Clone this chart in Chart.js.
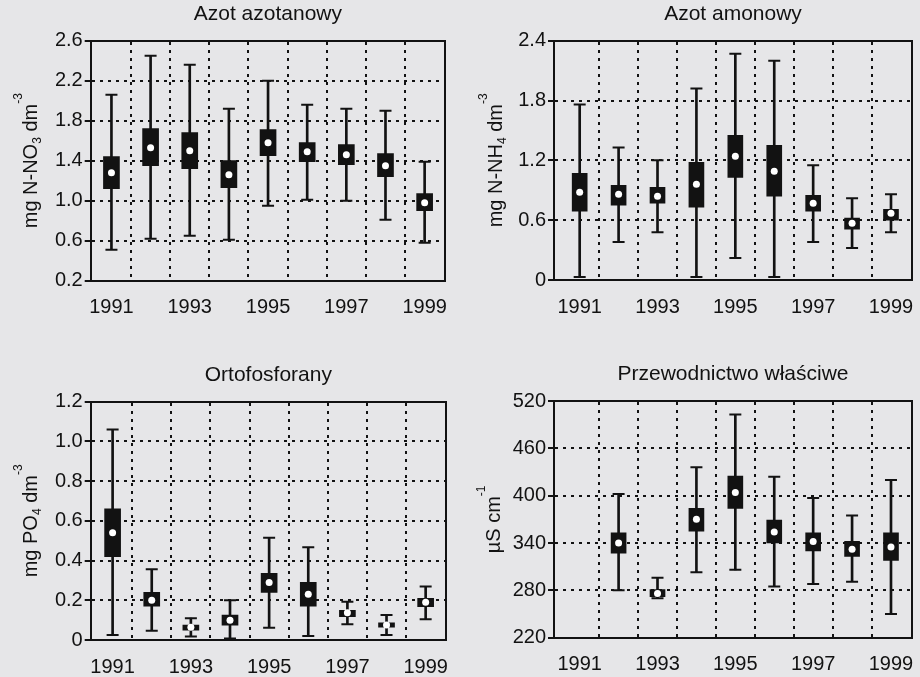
<!DOCTYPE html>
<html>
<head>
<meta charset="utf-8">
<title>Jakość wody 1991-1999</title>
<script src="https://cdn.jsdelivr.net/npm/chart.js@4.4.1/dist/chart.umd.min.js"></script>
<style>
  html, body { margin: 0; padding: 0; background: #e6e6e8; }
  body { width: 920px; height: 677px; position: relative; overflow: hidden; }
  .panel { position: absolute; }
  .panel canvas { display: block; }
</style>
</head>
<body>
<div class="panel" style="left:0;top:0"><canvas id="no3" width="460" height="320"></canvas></div>
<div class="panel" style="left:460px;top:0"><canvas id="nh4" width="460" height="320"></canvas></div>
<div class="panel" style="left:0;top:340px"><canvas id="po4" width="460" height="337"></canvas></div>
<div class="panel" style="left:460px;top:340px"><canvas id="cond" width="460" height="337"></canvas></div>
<script>
const years = [1991, 1992, 1993, 1994, 1995, 1996, 1997, 1998, 1999];
const yearLabels = [1991, 1993, 1995, 1997, 1999];

// Azot azotanowy, mg N-NO3 dm-3
const no3Ticks = [0.2, 0.6, 1.0, 1.4, 1.8, 2.2, 2.6];
const no3Min  = [0.51, 0.62, 0.65, 0.61, 0.95, 1.01, 1.00, 0.81, 0.58];
const no3Low  = [1.12, 1.35, 1.32, 1.13, 1.45, 1.39, 1.36, 1.24, 0.90];
const no3Mid  = [1.28, 1.53, 1.50, 1.26, 1.58, 1.49, 1.46, 1.35, 0.98];
const no3High = [1.44, 1.72, 1.68, 1.40, 1.71, 1.58, 1.56, 1.47, 1.07];
const no3Max  = [2.06, 2.45, 2.36, 1.92, 2.20, 1.96, 1.92, 1.90, 1.39];

// Azot amonowy, mg N-NH4 dm-3
const nh4Ticks = [0, 0.6, 1.2, 1.8, 2.4];
const nh4Min  = [0.03, 0.38, 0.48, 0.03, 0.22, 0.03, 0.38, 0.32, 0.48];
const nh4Low  = [0.69, 0.75, 0.77, 0.73, 1.03, 0.84, 0.69, 0.51, 0.60];
const nh4Mid  = [0.88, 0.86, 0.84, 0.96, 1.24, 1.09, 0.77, 0.57, 0.67];
const nh4High = [1.07, 0.95, 0.93, 1.18, 1.45, 1.35, 0.85, 0.62, 0.71];
const nh4Max  = [1.76, 1.33, 1.20, 1.92, 2.27, 2.20, 1.15, 0.82, 0.86];

// Ortofosforany, mg PO4 dm-3
const po4Ticks = [0, 0.2, 0.4, 0.6, 0.8, 1.0, 1.2];
const po4Min  = [0.025, 0.047, 0.017, 0.007, 0.062, 0.020, 0.079, 0.025, 0.104];
const po4Low  = [0.42, 0.17, 0.050, 0.075, 0.24, 0.17, 0.117, 0.064, 0.168];
const po4Mid  = [0.54, 0.20, 0.064, 0.100, 0.29, 0.23, 0.137, 0.075, 0.190];
const po4High = [0.66, 0.24, 0.075, 0.126, 0.336, 0.29, 0.150, 0.087, 0.210];
const po4Max  = [1.06, 0.356, 0.110, 0.200, 0.515, 0.467, 0.193, 0.126, 0.270];

// Przewodnictwo właściwe, µS cm-1 (brak pomiarów w 1991)
const condTicks = [220, 280, 340, 400, 460, 520];
const condMin  = [null, 280, 270, 303, 306, 285, 288, 291, 250];
const condLow  = [null, 327, 272, 355, 384, 340, 330, 323, 318];
const condMid  = [null, 340, 276, 370, 404, 354, 342, 332, 335];
const condHigh = [null, 353, 281, 384, 425, 369, 353, 342, 353];
const condMax  = [null, 402, 296, 436, 503, 424, 397, 375, 420];

const INK = '#121212';
const FONT = "'Liberation Sans', Arial, sans-serif";
const DOTS = [3, 5];

function points(vals) {
  return years.map((x, i) => ({ x: x, y: vals[i] })).filter(p => p.y !== null);
}
function ranges(lo, hi) {
  return years.map((x, i) => ({ x: x, y: lo[i] === null ? null : [lo[i], hi[i]] })).filter(p => p.y !== null);
}

// rotated y-axis title with sub/superscripts, drawn left of the plot
function axisTitle(x, parts) {
  return {
    id: 'axisTitle',
    afterDraw(chart) {
      const { ctx, chartArea } = chart;
      ctx.save();
      let total = 0;
      parts.forEach(p => {
        ctx.font = p.size + 'px ' + FONT;
        total += ctx.measureText(p.text).width;
      });
      ctx.translate(x, (chartArea.top + chartArea.bottom) / 2);
      ctx.rotate(-Math.PI / 2);
      ctx.fillStyle = INK;
      ctx.textBaseline = 'alphabetic';
      ctx.textAlign = 'left';
      let pos = -total / 2;
      parts.forEach(p => {
        ctx.font = p.size + 'px ' + FONT;
        ctx.fillText(p.text, pos, p.shift);
        pos += ctx.measureText(p.text).width;
      });
      ctx.restore();
    }
  };
}

function makePanel(id, p) {
  const yMin = p.ticks[0];
  const yMax = p.ticks[p.ticks.length - 1];
  const capStyle = {
    type: 'line', showLine: false, pointStyle: 'line', pointRadius: 6,
    pointBorderColor: INK, pointBorderWidth: 2, xAxisID: 'x', yAxisID: 'y', order: 3
  };

  new Chart(document.getElementById(id), {
    type: 'bar',
    data: {
      datasets: [
        { type: 'bar', data: ranges(p.min, p.max), backgroundColor: INK, barThickness: 2,
          grouped: false, xAxisID: 'x', yAxisID: 'y', order: 4 },
        { type: 'bar', data: ranges(p.low, p.high), backgroundColor: INK, barThickness: p.boxW,
          grouped: false, xAxisID: 'x', yAxisID: 'y', order: 2 },
        Object.assign({ data: points(p.max) }, capStyle),
        Object.assign({ data: points(p.min) }, capStyle),
        { type: 'line', data: points(p.mid), showLine: false, pointStyle: 'circle', pointRadius: 3.5,
          pointBackgroundColor: '#ffffff', pointBorderWidth: 0, xAxisID: 'x', yAxisID: 'y', order: 1 }
      ]
    },
    options: {
      responsive: false,
      animation: false,
      events: [],
      layout: { padding: { left: 0, top: 0, right: p.padRight, bottom: 0 } },
      plugins: {
        legend: { display: false },
        tooltip: { enabled: false },
        title: {
          display: true, text: p.title, fullSize: false, color: INK,
          font: { family: FONT, size: 21, weight: 'normal' },
          padding: { top: p.titleTop, bottom: 14 }
        }
      },
      scales: {
        x: {
          type: 'linear', position: 'bottom', min: p.xMin, max: p.xMax, offset: false,
          afterBuildTicks: s => { s.ticks = yearLabels.map(v => ({ value: v })); },
          afterFit: s => { s.height = p.xAxisH; },
          // hidden tick marks only push the year labels down
          grid: { display: false, drawTicks: true, tickLength: 15, offset: false },
          border: { display: true, color: INK, width: 2 },
          ticks: {
            color: INK, font: { family: FONT, size: 20 }, padding: 0,
            maxRotation: 0, autoSkip: false, callback: v => String(v)
          }
        },
        xg: {
          type: 'linear', position: 'top', min: p.xMin, max: p.xMax, offset: false,
          afterBuildTicks: s => { s.ticks = years.slice(0, -1).map(v => ({ value: v + 0.5 })); },
          ticks: { display: false },
          grid: { color: INK, lineWidth: 2, drawTicks: false, offset: false },
          border: { display: true, color: INK, width: 2, dash: DOTS }
        },
        y: {
          type: 'linear', position: 'left', min: yMin, max: yMax,
          afterBuildTicks: s => { s.ticks = p.ticks.map(v => ({ value: v })); },
          afterFit: s => { s.width = p.yAxisW; },
          grid: { color: INK, lineWidth: 2, tickLength: 6, tickWidth: 2, tickColor: INK },
          border: { display: true, color: INK, width: 2, dash: DOTS },
          ticks: { color: INK, font: { family: FONT, size: 20 }, padding: 2, callback: p.fmt }
        },
        y2: {
          type: 'linear', position: 'right', min: yMin, max: yMax,
          ticks: { display: false },
          grid: { display: false, drawTicks: false },
          border: { display: true, color: INK, width: 2 }
        }
      }
    },
    plugins: [axisTitle(p.yTitleX, p.yTitle)]
  });
}

const oneDecimal = v => (v === 0 ? '0' : v.toFixed(1));

makePanel('no3', {
  title: 'Azot azotanowy', ticks: no3Ticks, fmt: oneDecimal,
  min: no3Min, low: no3Low, mid: no3Mid, high: no3High, max: no3Max,
  yTitle: [{ text: 'mg N-NO', size: 20, shift: 0 }, { text: '3', size: 12, shift: 4 },
           { text: ' dm', size: 20, shift: 0 }, { text: '-3', size: 12, shift: -15 }],
  yTitleX: 37, yAxisW: 90.7, padRight: 15, titleTop: 1.5, xAxisH: 39.3,
  xMin: 1990.47, xMax: 1999.52, boxW: 16
});

makePanel('nh4', {
  title: 'Azot amonowy', ticks: nh4Ticks, fmt: oneDecimal,
  min: nh4Min, low: nh4Low, mid: nh4Mid, high: nh4High, max: nh4Max,
  yTitle: [{ text: 'mg N-NH', size: 20, shift: 0 }, { text: '4', size: 12, shift: 4 },
           { text: ' dm', size: 20, shift: 0 }, { text: '-3', size: 12, shift: -15 }],
  yTitleX: 41.5, yAxisW: 94, padRight: 7, titleTop: 1.5, xAxisH: 40,
  xMin: 1990.34, xMax: 1999.54, boxW: 15
});

makePanel('po4', {
  title: 'Ortofosforany', ticks: po4Ticks, fmt: oneDecimal,
  min: po4Min, low: po4Low, mid: po4Mid, high: po4High, max: po4Max,
  yTitle: [{ text: 'mg PO', size: 20, shift: 0 }, { text: '4', size: 12, shift: 4 },
           { text: ' dm', size: 20, shift: 0 }, { text: '-3', size: 12, shift: -15 }],
  yTitleX: 37, yAxisW: 90.7, padRight: 14, titleTop: 22.5, xAxisH: 37,
  xMin: 1990.44, xMax: 1999.52, boxW: 16
});

makePanel('cond', {
  title: 'Przewodnictwo właściwe', ticks: condTicks, fmt: v => String(v),
  min: condMin, low: condLow, mid: condMid, high: condHigh, max: condMax,
  yTitle: [{ text: 'µS cm', size: 20, shift: 0 }, { text: '-1', size: 12, shift: -15 }],
  yTitleX: 40, yAxisW: 94, padRight: 7, titleTop: 21.8, xAxisH: 39.3,
  xMin: 1990.34, xMax: 1999.54, boxW: 15
});
</script>
</body>
</html>
